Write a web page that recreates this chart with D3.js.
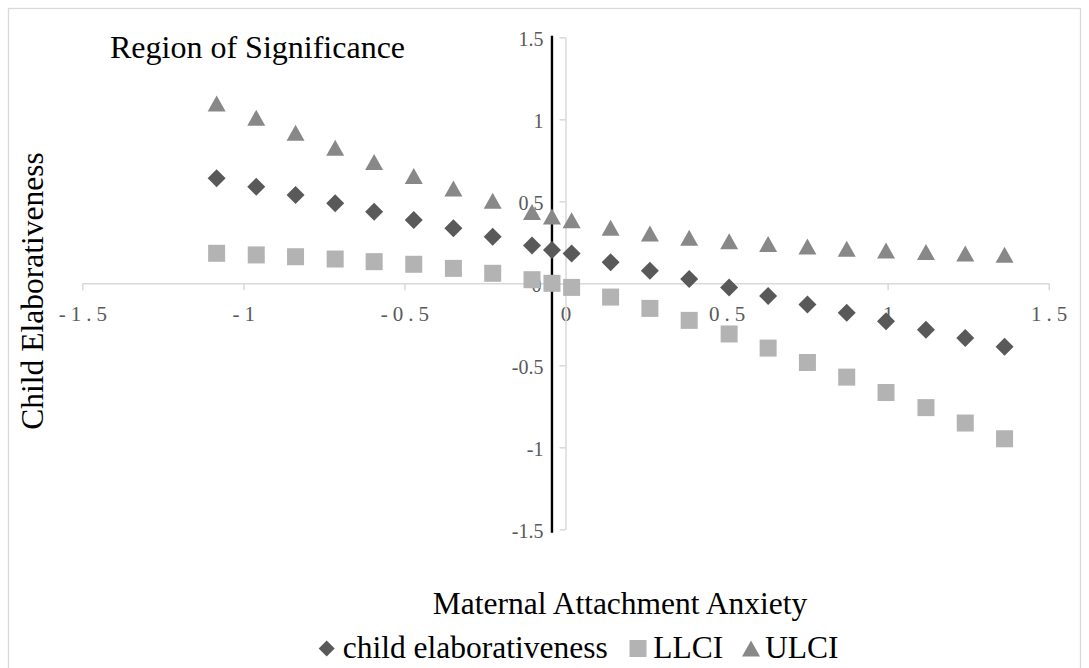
<!DOCTYPE html>
<html>
<head>
<meta charset="utf-8">
<script src="https://cdn.jsdelivr.net/npm/d3@7"></script>
<style>
  html, body { margin: 0; padding: 0; background: #ffffff; }
  svg { display: block; }
  text { font-family: "Liberation Serif", "Times New Roman", serif; }
</style>
</head>
<body>
<svg id="chart" width="1089" height="668"></svg>
<script>
// ---- Data ----
const xValues = [-1.083, -0.960, -0.838, -0.715, -0.594, -0.471, -0.348, -0.226, -0.104, -0.042,
                 0.019, 0.140, 0.262, 0.384, 0.508, 0.629, 0.751, 0.873, 0.995, 1.119, 1.241, 1.363];
const childElaborativeness = [0.640, 0.589, 0.538, 0.488, 0.437, 0.386, 0.335, 0.284, 0.231, 0.203,
                 0.181, 0.128, 0.077, 0.026, -0.025, -0.077, -0.129, -0.179, -0.231, -0.283, -0.334, -0.387];
const llci = [0.183, 0.173, 0.162, 0.148, 0.132, 0.116, 0.091, 0.061, 0.022, 0.000,
                 -0.025, -0.084, -0.153, -0.226, -0.309, -0.395, -0.483, -0.572, -0.666, -0.758, -0.852, -0.948];
const ulci = [1.097, 1.010, 0.918, 0.826, 0.740, 0.655, 0.578, 0.503, 0.435, 0.408,
                 0.384, 0.339, 0.304, 0.278, 0.256, 0.240, 0.224, 0.211, 0.200, 0.191, 0.182, 0.174];
const jnPoint = -0.042;
const xTicks = [-1.5, -1, -0.5, 0, 0.5, 1, 1.5];
const yTicks = [-1.5, -1, -0.5, 0, 0.5, 1, 1.5];
const seriesNames = ["child elaborativeness", "LLCI", "ULCI"];
const titleText = "Region of Significance";
const xTitle = "Maternal Attachment Anxiety";
const yTitle = "Child Elaborativeness";

// ---- Styling ----
const colors = { diamond: "#595959", square: "#b3b3b3", triangle: "#888888" };
const axisColor = "#d9d9d9";
const labelColor = "#595959";

const svg = d3.select("#chart");

// chart border
svg.append("rect").attr("x", 8.5).attr("y", 8.5).attr("width", 1072).attr("height", 700)
  .attr("fill", "none").attr("stroke", axisColor).attr("stroke-width", 1.3);

const x = d3.scaleLinear().domain([-1.5, 1.5]).range([82.3, 1048.7]);
const y = d3.scaleLinear().domain([-1.5, 1.5]).range([529.3, 37.3]);

// x axis at y=0
const xAxisG = svg.append("g").attr("transform", `translate(0,${y(0)})`)
  .call(d3.axisBottom(x).tickValues(xTicks).tickSize(7).tickSizeOuter(0)
    .tickFormat(d => String(d)));
xAxisG.select(".domain").attr("stroke", axisColor).attr("stroke-width", 1.5);
xAxisG.selectAll(".tick line").attr("stroke", axisColor).attr("stroke-width", 1.5);
xAxisG.selectAll(".tick text")
  .attr("fill", labelColor).attr("font-size", 21)
  .style("letter-spacing", "5px")
  .attr("y", 0).attr("dy", null)
  .attr("transform", "translate(2.5,37.7)");

// y axis at x=0
const yAxisG = svg.append("g").attr("transform", `translate(${x(0)},0)`)
  .call(d3.axisLeft(y).tickValues(yTicks).tickSize(6).tickSizeOuter(0)
    .tickFormat(d => String(d)));
yAxisG.select(".domain").attr("stroke", axisColor).attr("stroke-width", 1.5);
yAxisG.selectAll(".tick line").attr("stroke", axisColor).attr("stroke-width", 1.5);
yAxisG.selectAll(".tick text")
  .attr("fill", labelColor).attr("font-size", 20)
  .attr("x", -22).attr("dy", null).attr("y", 8);
yAxisG.selectAll(".tick").filter(d => d === 0).select("text").attr("x", -24);

// Johnson-Neyman line
svg.append("line")
  .attr("x1", x(jnPoint)).attr("x2", x(jnPoint))
  .attr("y1", y(1.5) - 1.5).attr("y2", y(-1.5) + 3.5)
  .attr("stroke", "#000").attr("stroke-width", 2.4);

// markers
const diamondPath = (s) => `M0,${-s}L${s},0L0,${s}L${-s},0Z`;
const trianglePath = (w, h) => `M0,${-h/2}L${w/2},${h/2}L${-w/2},${h/2}Z`;

const pts = xValues.map((xv, i) => ({ x: xv, c: childElaborativeness[i], l: llci[i], u: ulci[i] }));

svg.append("g").selectAll("rect").data(pts).join("rect")
  .attr("x", d => x(d.x) - 8.5).attr("y", d => y(d.l) - 8.5)
  .attr("width", 17).attr("height", 17)
  .attr("fill", colors.square);

svg.append("g").selectAll("path").data(pts).join("path")
  .attr("transform", d => `translate(${x(d.x)},${y(d.u)})`)
  .attr("d", trianglePath(18, 16))
  .attr("fill", colors.triangle);

svg.append("g").selectAll("path").data(pts).join("path")
  .attr("transform", d => `translate(${x(d.x)},${y(d.c)})`)
  .attr("d", diamondPath(9))
  .attr("fill", colors.diamond);

// titles
svg.append("text").attr("x", 110).attr("y", 58.3)
  .attr("font-size", 32).attr("fill", "#000").text(titleText);

svg.append("text").attr("x", 620).attr("y", 614)
  .attr("text-anchor", "middle").attr("font-size", 31.5).attr("fill", "#000").text(xTitle);

svg.append("text").attr("transform", "translate(43,291) rotate(-90)")
  .attr("text-anchor", "middle").attr("font-size", 31.5).attr("fill", "#000").text(yTitle);

// legend
const legendItems = [
  { name: seriesNames[0], shape: "diamond", sx: 326.7, tx: 342.7 },
  { name: seriesNames[1], shape: "square", sx: 638, tx: 653.3 },
  { name: seriesNames[2], shape: "triangle", sx: 751, tx: 765 }
];
const legendY = 648.5;
const lg = svg.append("g");
legendItems.forEach(it => {
  if (it.shape === "diamond") {
    lg.append("path").attr("transform", `translate(${it.sx},${legendY})`)
      .attr("d", diamondPath(8)).attr("fill", colors.diamond);
  } else if (it.shape === "square") {
    lg.append("rect").attr("x", it.sx - 8.5).attr("y", legendY - 8.5)
      .attr("width", 17).attr("height", 17).attr("fill", colors.square);
  } else {
    lg.append("path").attr("transform", `translate(${it.sx},${legendY})`)
      .attr("d", trianglePath(18, 16)).attr("fill", colors.triangle);
  }
  lg.append("text").attr("x", it.tx).attr("y", 658.3)
    .attr("font-size", 31.5).attr("fill", "#000").text(it.name);
});
</script>
</body>
</html>
